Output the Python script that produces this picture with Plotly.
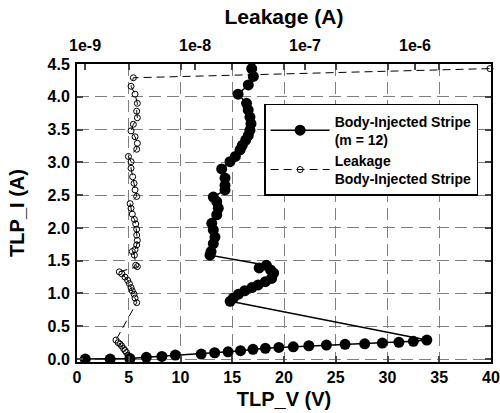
import plotly.graph_objects as go

# Body-injected stripe TLP I-V (m = 12)
iv_V = [0.8, 3.2, 5.1, 6.7, 8.2, 9.5, 12.0, 13.3, 14.6, 15.8, 17.0, 18.2, 19.5, 20.9,
        22.4, 24.1, 25.9, 27.8, 29.5, 31.1, 32.5, 33.8,
        14.8, 15.1, 15.6, 16.2, 16.9, 17.5, 18.2, 18.8, 19.0, 18.7, 17.6, 18.3,
        12.85, 12.95, 13.17, 13.33, 13.17, 13.02, 13.5, 13.65, 13.5, 13.17, 14.3, 14.3,
        14.3, 13.98, 14.78, 15.3, 15.75, 15.97, 16.3, 16.55, 16.71, 16.81, 16.71, 16.54,
        16.38, 15.56, 16.55, 17.04, 16.88]
iv_I = [0.0, 0.0, 0.01, 0.026, 0.04, 0.06, 0.076, 0.096, 0.11, 0.127, 0.148, 0.163, 0.178, 0.187,
        0.203, 0.213, 0.224, 0.233, 0.244, 0.255, 0.27, 0.29,
        0.88, 0.93, 0.99, 1.04, 1.09, 1.13, 1.18, 1.23, 1.31, 1.36, 1.39, 1.43,
        1.585, 1.64, 1.76, 1.86, 1.97, 2.07, 2.20, 2.30, 2.40, 2.47, 2.58, 2.65,
        2.76, 2.90, 3.01, 3.09, 3.19, 3.26, 3.34, 3.41, 3.49, 3.59, 3.69, 3.80,
        3.90, 4.04, 4.18, 4.31, 4.43]

# Leakage after each pulse
leak_I = [0.0, 0.01, 0.035, 0.06, 0.10, 0.13, 0.16, 0.20, 0.23, 0.25, 0.29,
          0.86, 0.93, 0.99, 1.04, 1.09, 1.15, 1.20, 1.25, 1.30, 1.33, 1.41, 1.43,
          1.585, 1.64, 1.67, 1.74, 1.81, 1.89, 1.98, 2.06, 2.13, 2.21, 2.30, 2.37,
          2.48, 2.58, 2.68, 2.78, 2.91, 3.01, 3.09, 3.20, 3.29, 3.39, 3.48, 3.58,
          3.68, 3.78, 3.90, 4.04, 4.16, 4.29, 4.43]
leak_A = [2.67e-9, 2.65e-9, 2.57e-9, 2.46e-9, 2.38e-9, 2.31e-9, 2.24e-9, 2.15e-9, 2.08e-9, 2.00e-9, 1.91e-9,
          2.95e-9, 2.85e-9, 2.79e-9, 2.69e-9, 2.62e-9, 2.53e-9, 2.44e-9, 2.31e-9, 2.16e-9, 2.05e-9, 2.99e-9, 2.89e-9,
          2.81e-9, 2.69e-9, 2.85e-9, 2.95e-9, 2.99e-9, 2.95e-9, 2.95e-9, 2.89e-9, 2.81e-9, 2.69e-9, 2.62e-9, 2.57e-9,
          2.95e-9, 2.85e-9, 2.79e-9, 2.71e-9, 2.62e-9, 2.62e-9, 2.48e-9, 2.95e-9, 2.99e-9, 2.85e-9, 2.62e-9, 2.75e-9,
          2.99e-9, 2.95e-9, 2.99e-9, 2.85e-9, 2.62e-9, 2.75e-9, 4.8e-6]

x_ticks = [0, 5, 10, 15, 20, 25, 30, 35, 40]
y_ticks = [0.0, 0.5, 1.0, 1.5, 2.0, 2.5, 3.0, 3.5, 4.0, 4.5]
top_tickvals = [1e-9, 1e-8, 1e-7, 1e-6]
top_ticktext = ["1e-9", "1e-8", "1e-7", "1e-6"]

FONT = "Liberation Sans, Arial, sans-serif"

fig = go.Figure()
fig.add_trace(go.Scatter(
    x=iv_V, y=iv_I, mode="lines+markers",
    name="Body-Injected Stripe<br>(m = 12)",
    line=dict(color="black", width=1.5),
    marker=dict(symbol="circle", size=11, color="black"),
    xaxis="x", yaxis="y"))
fig.add_trace(go.Scatter(
    x=leak_A, y=leak_I, mode="lines+markers",
    name="Leakage<br>Body-Injected Stripe",
    line=dict(color="black", width=1, dash="8px,5px"),
    marker=dict(symbol="circle-open", size=6, color="black", line=dict(width=1)),
    cliponaxis=False,
    xaxis="x2", yaxis="y"))

grid = dict(showgrid=True, gridcolor="#7f7f7f", gridwidth=1, griddash="12px,6px")

fig.update_layout(
    autosize=False, width=500, height=413,
    margin=dict(l=77, r=9, t=64, b=51, autoexpand=False),
    paper_bgcolor="white", plot_bgcolor="white",
    font=dict(family=FONT, color="black"),
    xaxis=dict(range=[0, 40], tickvals=x_ticks, ticks="inside", ticklen=6, tickwidth=1.5,
               showline=True, linecolor="black", linewidth=2, mirror="ticks",
               zeroline=False, automargin=False,
               tickfont=dict(size=16, weight="bold"),
               title=dict(text="TLP_V (V)", font=dict(size=20, weight="bold"), standoff=7),
               **grid),
    xaxis2=dict(type="log", range=[-9.073, -5.309], overlaying="x", side="top",
                tickvals=top_tickvals, ticktext=top_ticktext, ticks="inside", ticklen=6,
                tickwidth=1.5, showgrid=False, zeroline=False, showline=False,
                ticklabelstandoff=9, automargin=False,
                tickfont=dict(size=16, weight="bold"),
                title=dict(text="Leakage (A)", font=dict(size=21, weight="bold"), standoff=6)),
    yaxis=dict(range=[-0.045, 4.5], tickvals=y_ticks, tickformat=".1f", ticks="inside",
               ticklen=6, tickwidth=1.5, showline=True, linecolor="black", linewidth=2,
               mirror="ticks", zeroline=False, ticklabelstandoff=2, automargin=False,
               tickfont=dict(size=16, weight="bold"),
               title=dict(text="TLP_I (A)", font=dict(size=20, weight="bold"), standoff=18),
               **grid),
    legend=dict(x=0.452, y=0.866, xanchor="left", yanchor="top",
                bgcolor="white", bordercolor="black", borderwidth=1.5,
                font=dict(size=14, weight="bold", family=FONT),
                itemwidth=59, tracegroupgap=0),
    showlegend=True,
)

fig.write_html(
    "out.html",
    config={"responsive": False, "displayModeBar": False},
    post_script="document.body.style.margin='0px';document.body.style.padding='0px';"
                "document.documentElement.style.overflow='hidden';",
)
